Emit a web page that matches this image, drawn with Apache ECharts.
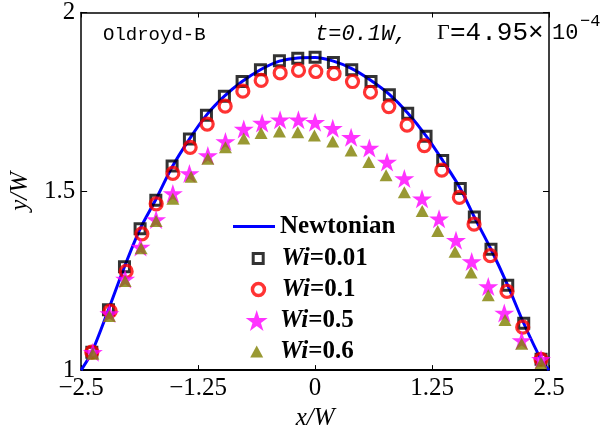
<!DOCTYPE html>
<html>
<head>
<meta charset="utf-8">
<script src="https://cdn.jsdelivr.net/npm/echarts@6/dist/echarts.min.js"></script>
<style>
html,body{margin:0;padding:0;background:#fff;}
#chart{width:615px;height:436px;}
</style>
</head>
<body>
<div id="chart"></div>
<script>
// ---- data ----
const xTicks = [-2.5, -1.25, 0, 1.25, 2.5];
const yTicks = [1, 1.5, 2];

const newtonianX = [-2.5, -2.386, -2.208, -2.037, -1.870, -1.702, -1.528, -1.343, -1.161, -0.969, -0.780, -0.584, -0.381, -0.185, 0.0, 0.196, 0.392, 0.598, 0.794, 0.990, 1.186, 1.364, 1.552, 1.702, 1.880, 2.059, 2.230, 2.415, 2.5];
const newtonianY = [1.0, 1.050, 1.169, 1.289, 1.395, 1.477, 1.568, 1.646, 1.713, 1.766, 1.807, 1.840, 1.864, 1.873, 1.874, 1.864, 1.843, 1.810, 1.771, 1.719, 1.655, 1.586, 1.508, 1.428, 1.338, 1.237, 1.131, 1.030, 1.0];

const wi001X = [-2.386, -2.208, -2.037, -1.870, -1.702, -1.528, -1.343, -1.161, -0.969, -0.780, -0.584, -0.381, -0.185, 0.0, 0.196, 0.392, 0.598, 0.794, 0.990, 1.186, 1.364, 1.552, 1.702, 1.880, 2.059, 2.230, 2.415];
const wi001Y = [1.050, 1.169, 1.289, 1.395, 1.475, 1.571, 1.646, 1.713, 1.766, 1.807, 1.840, 1.865, 1.872, 1.875, 1.860, 1.840, 1.807, 1.770, 1.718, 1.654, 1.586, 1.508, 1.428, 1.338, 1.237, 1.131, 1.030];

const wi01X = [-2.386, -2.190, -2.019, -1.851, -1.698, -1.520, -1.335, -1.153, -0.961, -0.772, -0.576, -0.373, -0.177, 0.008, 0.203, 0.400, 0.592, 0.788, 0.983, 1.168, 1.354, 1.542, 1.699, 1.873, 2.051, 2.219, 2.415];
const wi01Y = [1.050, 1.165, 1.276, 1.381, 1.465, 1.550, 1.623, 1.688, 1.738, 1.780, 1.810, 1.831, 1.838, 1.835, 1.829, 1.807, 1.777, 1.737, 1.685, 1.628, 1.559, 1.483, 1.408, 1.320, 1.220, 1.120, 1.030];

const wi05X = [-2.375, -2.198, -2.030, -1.866, -1.699, -1.520, -1.343, -1.146, -0.958, -0.762, -0.566, -0.374, -0.178, 0.0, 0.189, 0.385, 0.580, 0.769, 0.954, 1.143, 1.325, 1.506, 1.674, 1.851, 2.022, 2.208, 2.415];
const wi05Y = [1.050, 1.158, 1.255, 1.344, 1.421, 1.494, 1.550, 1.600, 1.639, 1.674, 1.691, 1.700, 1.700, 1.693, 1.676, 1.651, 1.621, 1.582, 1.536, 1.479, 1.423, 1.363, 1.304, 1.234, 1.160, 1.083, 1.030];

const wi06X = [-2.375, -2.198, -2.030, -1.859, -1.699, -1.520, -1.325, -1.146, -0.958, -0.762, -0.577, -0.381, -0.185, -0.007, 0.189, 0.385, 0.574, 0.759, 0.954, 1.145, 1.311, 1.496, 1.667, 1.851, 2.030, 2.208, 2.415];
const wi06Y = [1.046, 1.151, 1.249, 1.341, 1.417, 1.479, 1.541, 1.591, 1.623, 1.648, 1.663, 1.667, 1.665, 1.656, 1.639, 1.614, 1.582, 1.545, 1.497, 1.445, 1.389, 1.331, 1.273, 1.209, 1.140, 1.074, 1.020];

const seriesNames = ['Newtonian', 'Wi=0.01', 'Wi=0.1', 'Wi=0.5', 'Wi=0.6'];
// ---------------------------------------

function zip(xs, ys){ return xs.map((x,i)=>[x, ys[i]]); }

const starPath = 'path://M50,0 L61.2,34.5 L97.6,34.5 L68.2,55.9 L79.4,90.5 L50,69.1 L20.6,90.5 L31.8,55.9 L2.4,34.5 L38.8,34.5 Z';
const SERIF = '"Liberation Serif", "Times New Roman", serif';
const MONO = '"Liberation Mono", "DejaVu Sans Mono", monospace';

function richFor(spacer){
  return {
    s: {width: spacer, fontSize: 25},
    i: {fontFamily: SERIF, fontSize: 25, fontWeight: 'bold', fontStyle: 'italic', color: '#000'},
    b: {fontFamily: SERIF, fontSize: 25, fontWeight: 'bold', color: '#000'}
  };
}
function legendFmt(name){
  if (name.indexOf('Wi') === 0) return '{s| }{i|Wi}{b|' + name.slice(2) + '}';
  return '{b|' + name + '}';
}
// centerX: icon centre; text must start at x = 280
function mkLegend(name, icon, centerY, itemW, itemH, centerX, extraStyle){
  const left = centerX - itemW / 2;
  const spacer = Math.max(0, 280 - (left + itemW + 5));
  const item = {name: name, icon: icon};
  if (extraStyle) item.itemStyle = extraStyle;
  return {
    data: [item], orient: 'vertical', left: left, top: centerY - 11,
    itemWidth: itemW, itemHeight: itemH, itemGap: 0, padding: 0,
    selectedMode: false, formatter: legendFmt,
    textStyle: {rich: richFor(spacer)}
  };
}

const chart = echarts.init(document.getElementById('chart'), null, {renderer: 'canvas'});
const axisLineStyle = {color: '#000', width: 1.5};
const tickStyle = {color: '#000', width: 1};
const option = {
  animation: false,
  backgroundColor: '#fff',
  grid: {left: 80, right: 66, top: 12, bottom: 62, containLabel: false},
  xAxis: [{
    type: 'value', min: xTicks[0], max: xTicks[xTicks.length-1], interval: 1.25,
    position: 'bottom',
    axisLine: {show: true, onZero: false, lineStyle: {color: '#000', width: 2}},
    axisTick: {show: true, inside: true, length: 5, lineStyle: tickStyle},
    axisLabel: {margin: 6, fontFamily: SERIF, fontSize: 25, color: '#000',
      formatter: v => (v < 0 ? '\u2212' + Math.abs(v) : String(v))},
    splitLine: {show: false},
    name: 'x/W', nameLocation: 'middle', nameGap: 35,
    nameTextStyle: {fontFamily: SERIF, fontSize: 25, fontStyle: 'italic', color: '#000'}
  }, {
    type: 'value', min: xTicks[0], max: xTicks[xTicks.length-1], interval: 1.25,
    position: 'top',
    axisLine: {show: true, onZero: false, lineStyle: axisLineStyle},
    axisTick: {show: true, inside: true, length: 5, lineStyle: tickStyle},
    axisLabel: {show: false}, splitLine: {show: false}
  }],
  yAxis: [{
    type: 'value', min: yTicks[0], max: yTicks[yTicks.length-1], interval: 0.5,
    position: 'left',
    axisLine: {show: true, onZero: false, lineStyle: axisLineStyle},
    axisTick: {show: true, inside: true, length: 6, lineStyle: tickStyle},
    axisLabel: {margin: 6, fontFamily: SERIF, fontSize: 25, color: '#000'},
    splitLine: {show: false},
    name: 'y/W', nameLocation: 'middle', nameGap: 46, nameRotate: 90,
    nameTextStyle: {fontFamily: SERIF, fontSize: 25, fontStyle: 'italic', color: '#000'}
  }, {
    type: 'value', min: yTicks[0], max: yTicks[yTicks.length-1], interval: 0.5,
    position: 'right',
    axisLine: {show: true, onZero: false, lineStyle: axisLineStyle},
    axisTick: {show: true, inside: true, length: 6, lineStyle: tickStyle},
    axisLabel: {show: false}, splitLine: {show: false}
  }],
  legend: [
    mkLegend(seriesNames[0], 'rect', 225, 42, 3, 254, {color: '#0000ff'}),
    mkLegend(seriesNames[1], 'rect', 257, 10, 10, 256.7, {color: 'rgba(255,255,255,0)', borderColor: '#000', borderWidth: 3}),
    mkLegend(seriesNames[2], 'circle', 288, 12, 12, 256.7, {color: 'rgba(255,255,255,0)', borderColor: '#ff0000', borderWidth: 3.5}),
    mkLegend(seriesNames[3], starPath, 319, 22, 22, 256.7, {color: '#ff00ff'}),
    mkLegend(seriesNames[4], 'triangle', 350, 13, 12, 256.7, {color: '#808000'})
  ],
  series: [
    {name: seriesNames[0], type: 'line', data: zip(newtonianX, newtonianY), smooth: 0.3,
     showSymbol: false, symbol: 'none', lineStyle: {color: '#0000ff', width: 3}, itemStyle: {color: '#0000ff'}, z: 2},
    {name: seriesNames[1], type: 'scatter', data: zip(wi001X, wi001Y), symbol: 'rect', symbolSize: 10,
     itemStyle: {color: 'rgba(255,255,255,0)', borderColor: '#000', borderWidth: 3}, z: 3},
    {name: seriesNames[2], type: 'scatter', data: zip(wi01X, wi01Y), symbol: 'circle', symbolSize: 12,
     itemStyle: {color: 'rgba(255,255,255,0)', borderColor: '#ff0000', borderWidth: 3.2}, z: 4},
    {name: seriesNames[3], type: 'scatter', data: zip(wi05X, wi05Y), symbol: starPath, symbolKeepAspect: true, symbolSize: 20,
     itemStyle: {color: '#ff00ff'}, z: 5},
    {name: seriesNames[4], type: 'scatter', data: zip(wi06X, wi06Y), symbol: 'triangle', symbolSize: [13, 12],
     itemStyle: {color: '#808000'}, z: 6}
  ],
  graphic: [
    {type: 'text', x: 103, y: 35, style: {text: 'Oldroyd-B', font: '19px ' + MONO, fill: '#000', verticalAlign: 'middle'}},
    {type: 'text', x: 315, y: 34, style: {text: 't=0.1W,', font: 'italic 22px ' + MONO, fill: '#000', verticalAlign: 'middle'}},
    {type: 'text', x: 437, y: 33, style: {text: '\u0393', font: '22px ' + SERIF, fill: '#000', verticalAlign: 'middle'}},
    {type: 'text', x: 450, y: 33, style: {text: '=4.95\u00d7', font: '26px ' + MONO, fill: '#000', verticalAlign: 'middle'}},
    {type: 'text', x: 552, y: 33, style: {text: '10', font: '22px ' + MONO, fill: '#000', verticalAlign: 'middle'}},
    {type: 'text', x: 580, y: 21, style: {text: '\u22124', font: '17px ' + MONO, fill: '#000', verticalAlign: 'middle'}}
  ]
};
chart.setOption(option);
</script>
</body>
</html>
